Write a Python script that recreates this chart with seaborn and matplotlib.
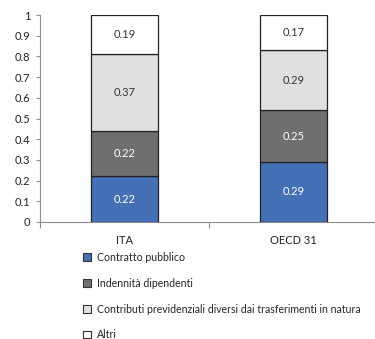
import matplotlib
matplotlib.use("Agg")
import matplotlib.pyplot as plt
from matplotlib.patches import Patch
import numpy as np
import pandas as pd
import seaborn as sns

# Data
countries = ["ITA", "OECD 31"]
components = [
    "Contratto pubblico",
    "Indennità dipendenti",
    "Contributi previdenziali diversi dai trasferimenti in natura",
    "Altri",
]
contratto_pubblico = [0.22, 0.29]
indennita_dipendenti = [0.22, 0.25]
contributi_previdenziali = [0.37, 0.29]
altri = [0.19, 0.17]
y_ticks = [0, 0.1, 0.2, 0.3, 0.4, 0.5, 0.6, 0.7, 0.8, 0.9, 1]
y_tick_labels = ["0", "0.1", "0.2", "0.3", "0.4", "0.5", "0.6", "0.7", "0.8", "0.9", "1"]

series = [contratto_pubblico, indennita_dipendenti, contributi_previdenziali, altri]
fills = ["#4470b6", "#6f6f6f", "#e0e0e0", "#ffffff"]
text_colors = ["white", "white", "#333333", "#333333"]

sns.set_theme(style="white")
plt.rcParams["font.family"] = ["Lato", "DejaVu Sans"]

fig = plt.figure(figsize=(3.75, 3.39), dpi=100)
ax = fig.add_axes([40 / 375, 117 / 339, 338 / 375, 207 / 339])

df = pd.DataFrame({"country": countries})
bottom = np.zeros(len(countries))
for name, vals, fc, tc in zip(components, series, fills, text_colors):
    df[name] = vals
    sns.barplot(data=df, x="country", y=name, bottom=bottom, color=fc,
                saturation=1, width=0.4, edgecolor="#222222", linewidth=0.9,
                ax=ax, zorder=3)
    cont = ax.containers[-1]
    ax.bar_label(cont, labels=[f"{v:.2f}" for v in vals], label_type="center",
                 color=tc, fontsize=8)
    bottom = bottom + np.array(vals)

ax.set_xlim(-0.5, 1.5)
ax.set_ylim(0, 1)
ax.set_yticks(y_ticks)
ax.set_yticklabels(y_tick_labels)
ax.set_xlabel("")
ax.set_ylabel("")

for side in ["top", "right"]:
    ax.spines[side].set_visible(False)
for side in ["left", "bottom"]:
    ax.spines[side].set_color("#8c8c8c")
    ax.spines[side].set_linewidth(0.8)

ax.tick_params(axis="y", which="major", left=True, length=3, width=0.8,
               color="#8c8c8c", labelsize=8, labelcolor="#222222", pad=4)
ax.set_xticks([0, 1])
ax.set_xticklabels(countries)
ax.set_xticks([-0.5, 0.5], minor=True)
ax.tick_params(axis="x", which="major", bottom=False, labelsize=8,
               labelcolor="#222222", pad=3)
ax.tick_params(axis="x", which="minor", bottom=True, length=4, width=0.8,
               color="#8c8c8c")

handles = [Patch(facecolor=fc, edgecolor="#333333", linewidth=0.8) for fc in fills]
fig.legend(handles, components, loc="upper left",
           bbox_to_anchor=(83 / 375, 1 - 252 / 339), frameon=False,
           fontsize=7.6, handlelength=0.74, handleheight=0.74, handletextpad=0.6,
           labelspacing=1.4, borderaxespad=0, borderpad=0)

fig.savefig("out.png", dpi=100)
